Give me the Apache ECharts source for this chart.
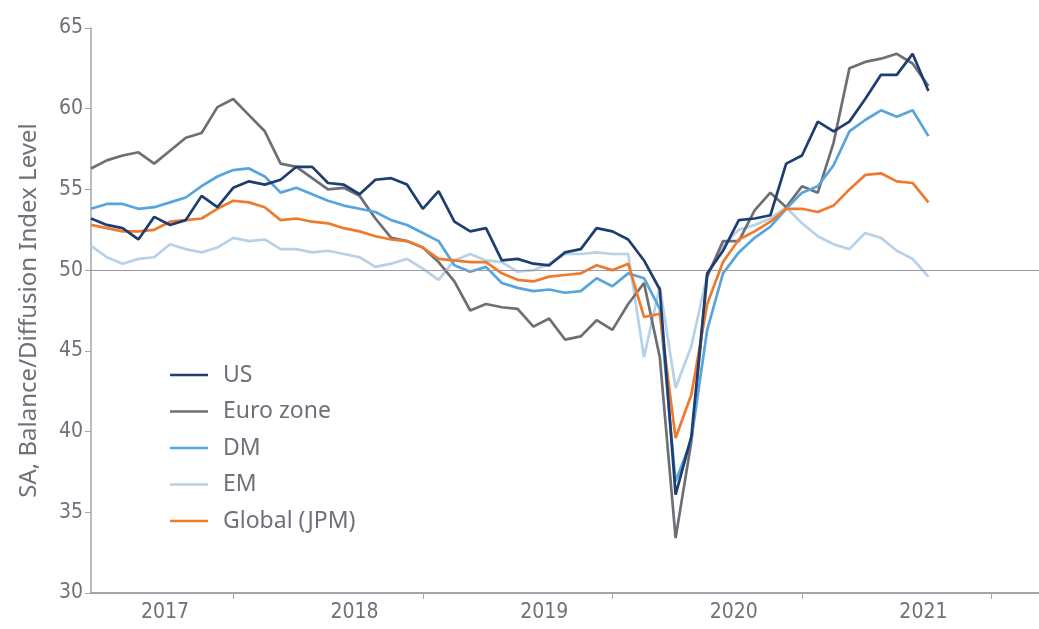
<!DOCTYPE html>
<html>
<head>
<meta charset="utf-8">
<script src="https://cdn.jsdelivr.net/npm/echarts@6/dist/echarts.min.js"></script>
<style>
  html, body { margin: 0; padding: 0; background: #fff; }
  #chart { width: 1039px; height: 629px; }
</style>
</head>
<body>
<div id="chart"></div>
<script>
// monthly readings, Mar 2017 .. Aug 2021
const us = [53.2, 52.8, 52.6, 51.9, 53.3, 52.8, 53.1, 54.6, 53.9, 55.1,
  55.5, 55.3, 55.6, 56.4, 56.4, 55.4, 55.3, 54.7, 55.6, 55.7, 55.3, 53.8,
  54.9, 53.0, 52.4, 52.6, 50.6, 50.7, 50.4, 50.3, 51.1, 51.3, 52.6, 52.4,
  51.9, 50.6, 48.8, 36.1, 39.7, 49.8, 51.2, 53.1, 53.2, 53.4, 56.6, 57.1,
  59.2, 58.6, 59.2, 60.6, 62.1, 62.1, 63.4, 61.1];
const euroZone = [56.3, 56.8, 57.1, 57.3, 56.6, 57.4, 58.2, 58.5, 60.1, 60.6,
  59.6, 58.6, 56.6, 56.4, 55.7, 55.0, 55.1, 54.6, 53.2, 52.0, 51.8, 51.4,
  50.5, 49.3, 47.5, 47.9, 47.7, 47.6, 46.5, 47.0, 45.7, 45.9, 46.9, 46.3,
  47.9, 49.2, 44.6, 33.4, 39.4, 49.6, 51.8, 51.8, 53.7, 54.8, 53.9, 55.2,
  54.8, 57.9, 62.5, 62.9, 63.1, 63.4, 62.8, 61.4];
const dm = [53.8, 54.1, 54.1, 53.8, 53.9, 54.2, 54.5, 55.2, 55.8, 56.2,
  56.3, 55.8, 54.8, 55.1, 54.7, 54.3, 54.0, 53.8, 53.6, 53.1, 52.8, 52.3,
  51.8, 50.3, 49.9, 50.2, 49.2, 48.9, 48.7, 48.8, 48.6, 48.7, 49.5, 49.0,
  49.8, 49.5, 47.6, 36.9, 39.5, 46.3, 49.8, 51.1, 52.0, 52.7, 53.8, 54.8,
  55.2, 56.5, 58.6, 59.3, 59.9, 59.5, 59.9, 58.3];
const em = [51.5, 50.8, 50.4, 50.7, 50.8, 51.6, 51.3, 51.1, 51.4, 52.0,
  51.8, 51.9, 51.3, 51.3, 51.1, 51.2, 51.0, 50.8, 50.2, 50.4, 50.7, 50.1,
  49.4, 50.6, 51.0, 50.6, 50.5, 49.9, 50.0, 50.4, 51.0, 51.0, 51.1, 51.0,
  51.0, 44.6, 49.0, 42.7, 45.3, 49.7, 51.5, 52.5, 52.8, 53.2, 53.9, 52.9,
  52.1, 51.6, 51.3, 52.3, 52.0, 51.2, 50.7, 49.6];
const globalJpm = [52.8, 52.6, 52.4, 52.4, 52.5, 53.0, 53.1, 53.2, 53.8, 54.3,
  54.2, 53.9, 53.1, 53.2, 53.0, 52.9, 52.6, 52.4, 52.1, 51.9, 51.8, 51.4,
  50.7, 50.6, 50.5, 50.5, 49.8, 49.4, 49.3, 49.6, 49.7, 49.8, 50.3, 50.0,
  50.4, 47.1, 47.3, 39.6, 42.3, 47.9, 50.5, 51.9, 52.4, 53.0, 53.8, 53.8,
  53.6, 54.0, 55.0, 55.9, 56.0, 55.5, 55.4, 54.2];

// month categories, axis runs on to Mar 2022
const months = [];
for (let i = 0; i <= 60; i++) {
  const m = (2 + i) % 12;
  const y = 2017 + Math.floor((2 + i) / 12);
  months.push(y + '-' + String(m + 1).padStart(2, '0'));
}
const yearTicks = [30, 65, 5]; // min, max, step

const textGray = '#6f7079';
const axisGray = '#a3a3ad';

const chart = echarts.init(document.getElementById('chart'));

const mkSeries = (name, data, color, z) => ({
  name: name,
  type: 'line',
  data: data,
  symbol: 'none',
  z: z,
  lineStyle: { color: color, width: 2.7 },
  itemStyle: { color: color }
});

const series = [
  mkSeries('EM', em, '#b7d1e7', 2),
  mkSeries('Euro zone', euroZone, '#6e6f76', 3),
  mkSeries('DM', dm, '#57a5dd', 4),
  mkSeries('Global (JPM)', globalJpm, '#ee7b2d', 5),
  mkSeries('US', us, '#1e3d70', 6)
];
series[0].markLine = {
  silent: true,
  symbol: 'none',
  label: { show: false },
  lineStyle: { color: '#9a9aa6', width: 1, type: 'solid' },
  data: [{ yAxis: 50 }]
};

chart.setOption({
  animation: false,
  grid: { left: 91, right: 0, top: 28, bottom: 36 },
  legend: {
    data: ['US', 'Euro zone', 'DM', 'EM', 'Global (JPM)'],
    orient: 'vertical',
    left: 165,
    top: 358,
    icon: 'rect',
    itemWidth: 38,
    itemHeight: 2.5,
    itemGap: 12.5,
    textStyle: {
      color: textGray,
      fontFamily: 'Noto Sans',
      fontSize: 23,
      lineHeight: 24,
      padding: [0, 0, 0, 10]
    }
  },
  xAxis: {
    type: 'category',
    data: months,
    boundaryGap: false,
    axisLine: { lineStyle: { color: axisGray, width: 2 } },
    axisTick: {
      length: 6,
      interval: (i) => i % 12 === 9,
      lineStyle: { color: axisGray }
    },
    axisLabel: {
      interval: (i) => i % 12 === 5,
      formatter: (v) => v.slice(0, 4),
      color: textGray,
      fontFamily: 'Liberation Sans Narrow, DejaVu Sans Condensed, sans-serif',
      fontSize: 21,
      margin: 9,
      padding: [0, 10, 0, 0]
    },
    splitLine: { show: false }
  },
  yAxis: {
    type: 'value',
    min: yearTicks[0],
    max: yearTicks[1],
    interval: yearTicks[2],
    name: 'SA, Balance/Diffusion Index Level',
    nameLocation: 'middle',
    nameGap: 50,
    nameTextStyle: {
      color: textGray,
      fontFamily: 'Noto Sans',
      fontSize: 24
    },
    axisLine: { show: true, lineStyle: { color: axisGray, width: 1.5 } },
    axisTick: { show: true, length: 6, lineStyle: { color: axisGray } },
    axisLabel: {
      color: textGray,
      fontFamily: 'Liberation Sans Narrow, DejaVu Sans Condensed, sans-serif',
      fontSize: 21,
      margin: 8
    },
    splitLine: { show: false }
  },
  series: series
});
</script>
</body>
</html>
